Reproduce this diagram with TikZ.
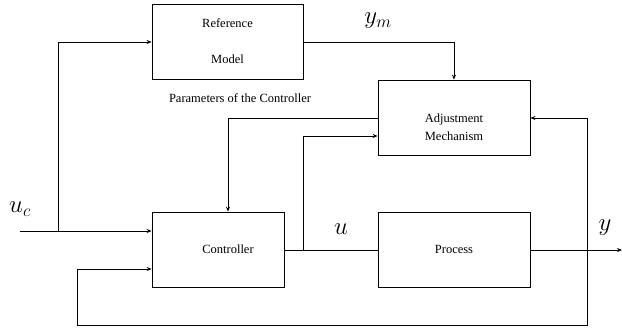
\documentclass[tikz,border=0pt]{standalone}
\usepackage{fontspec}
\setmainfont{Liberation Serif}
\usetikzlibrary{arrows.meta}
\begin{document}
\begin{tikzpicture}[x=1pt,y=-1pt,
  blk/.style={draw,line width=0.8pt,inner sep=0pt,font=\fontsize{12.5}{15}\selectfont,align=center},
  lbl/.style={inner sep=0pt,font=\fontsize{12.5}{15}\selectfont,align=center},
  mlbl/.style={inner sep=0pt,font=\fontsize{25}{30}\selectfont},
  conn/.style={line width=0.8pt},
  arr/.style={line width=0.8pt,-{Stealth[length=5pt,width=4pt]}}]
\useasboundingbox (0,0) rectangle (622,329);
\node[blk,minimum width=151pt,minimum height=75pt] (ref) at (227.5,41.5) {Reference\\[21pt]Model};
\node[blk,minimum width=152pt,minimum height=75pt] (adj) at (454,117.5) {};
\node[lbl] (adjtxt) at (454,127) {Adjustment\\[3pt]Mechanism};
\node[blk,minimum width=132pt,minimum height=75pt] (ctl) at (218,249.5) {};
\node[lbl] (ctltxt) at (228,249) {Controller};
\node[blk,minimum width=152pt,minimum height=75pt] (proc) at (454,249.5) {Process};
\node[lbl] (par) at (240,98) {Parameters of the Controller};
\node[mlbl] (ym) at (378,21) {$y_m$};
\node[mlbl] (uc) at (20,209) {$u_c$};
\node[mlbl] (u) at (341,229) {$u$};
\node[mlbl] (y) at (605,228) {$y$};
\coordinate (in) at (20,231);
\coordinate (b1) at (58,231);
\coordinate (out) at (622,250);
\coordinate (b2) at (303,250);
\coordinate (b3) at (587,250);
% input
\draw[arr] (in) -- (ctl.west |- in);
\draw[arr] (b1) |- (ref.west |- 0,42);
% ref model to adjustment
\draw[arr] (ref.east |- 0,42) -| (adj.north);
% adjustment to controller
\draw[arr] (adj.west |- 0,118) -| (ctl.north -| 228,0);
% controller to process
\draw[conn] (ctl.east |- 0,250) -- (proc.west |- 0,250);
\draw[arr] (b2) |- (adj.west |- 0,136);
% process output
\draw[arr] (proc.east |- 0,250) -- (out);
\draw[arr] (b3) |- (adj.east |- 0,118);
\draw[arr] (b3) -- (587,325) -| (77,269) -- (ctl.west |- 0,269);
\end{tikzpicture}
\end{document}
